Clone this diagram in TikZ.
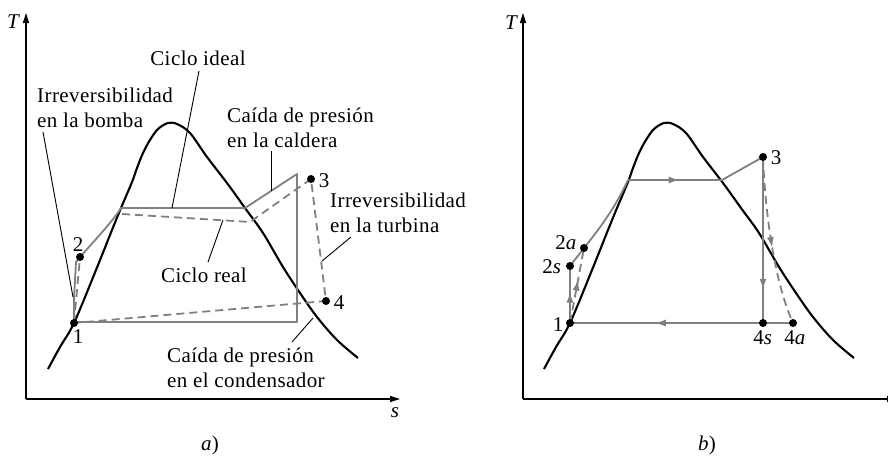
\documentclass[tikz,border=0pt]{standalone}
\usepackage{fontspec}
\setmainfont{Liberation Serif}[LetterSpace=2]
\usetikzlibrary{arrows.meta,decorations.markings}
\definecolor{cyc}{RGB}{128,128,128}
\tikzset{
  dome/.style={line width=2.1pt, black, line join=round},
  cycline/.style={line width=1.8pt, cyc, line join=round},
  cycdash/.style={cycline, dash pattern=on 8pt off 5pt},
  leader/.style={line width=0.9pt, black},
  axis/.style={line width=1.2pt, black, -{Triangle[length=10pt,width=6pt]}},
  dot/.style={circle, fill=black, inner sep=0pt, minimum size=8pt},
  lbl/.style={inner sep=0pt, font=\fontsize{21}{25}\selectfont},
  itl/.style={inner sep=0pt, font=\fontsize{21}{25}\selectfont\itshape},
  midarr/.style={postaction={decorate}, decoration={markings, mark=at position #1 with {\arrow{Latex[length=11pt,width=7pt]}}}},
}
\begin{document}
\begin{tikzpicture}[x=1pt,y=-1pt]
\useasboundingbox (0,0) rectangle (888,455);
\clip (0,0) rectangle (888,455);

% ---------------- panel a ----------------
\coordinate (Oa) at (26,399);
\coordinate (Ta) at (26,13);
\coordinate (Sa) at (400,399);
\draw[axis] (Oa) -- (Ta);
\draw[axis] (Oa) -- (Sa);
\node[itl] (Tla) at (13,22) {T};
\node[itl] (Sla) at (395,413) {s};
\node[lbl, anchor=base] (capa) at (210,450) {\textit{a})};

% domes
\foreach \dx in {0,496} {
  \draw[dome, xshift=\dx pt] plot[smooth, tension=0.55] coordinates {
    (48,369) (60,347) (74,323) (96,270) (112,230) (121,208) (132,182)
    (137,168) (143,153) (150,140) (158,129) (168,123) (177,124) (190,133)
    (207,157) (227,183) (245,208) (263,233) (283,267) (300,293) (317,317)
    (337,340) (358,358)};
}

% cycle a
\coordinate (p1) at (74,323);
\coordinate (p2) at (80,257);
\coordinate (p3) at (311,179);
\coordinate (p4) at (326,301);
\coordinate (ia) at (74,298);
\coordinate (ib) at (76,262);
\coordinate (ic) at (121,208);
\coordinate (id) at (245,208);
\coordinate (ie) at (297,174);
\coordinate (if) at (297,322);
\coordinate (ig) at (74,322);
\coordinate (rc) at (122,214);
\coordinate (rd) at (250,222);

\draw[cycline] (p1) -- (ia) -- (ib) .. controls (89,246) and (111,224) .. (ic)
  -- (id) -- (ie) -- (if) -- (ig);
\draw[cycdash] (p1) -- (p2);
\draw[cycdash] (rc) -- (rd) -- (p3) -- (p4) -- (p1);

\foreach \p in {p1,p2,p3,p4} \node[dot] at (\p) {};

\node[lbl] (n1a) at (78,337) {1};
\node[lbl] (n2a) at (78,245) {2};
\node[lbl] (n3a) at (324,181) {3};
\node[lbl] (n4a) at (339,303) {4};

% labels and leaders, panel a
\node[lbl, anchor=base] (tideal) at (198,65) {Ciclo ideal};
\coordinate (tidealtip) at (172,208);
\draw[leader] (199,71) -- (tidealtip);

\node[lbl, anchor=base west, align=left] (tbomba) at (37,127) {Irreversibilidad\\en la bomba};
\coordinate (tbombatip) at (73,297);
\draw[leader] (43,132) -- (tbombatip);

\node[lbl, anchor=base west, align=left] (tcald) at (227,147) {Caída de presión\\en la caldera};
\coordinate (tcaldtip) at (271,191);
\draw[leader] (271,151) -- (tcaldtip);

\node[lbl, anchor=base west, align=left] (tturb) at (330,232) {Irreversibilidad\\en la turbina};
\coordinate (tturbtip) at (322,261);
\draw[leader] (351,237) -- (tturbtip);

\node[lbl, anchor=base] (treal) at (204,282) {Ciclo real};
\coordinate (trealtip) at (223,220);
\draw[leader] (208,262) -- (trealtip);

\node[lbl, anchor=base west, align=left] (tcond) at (167,387) {Caída de presión\\en el condensador};
\coordinate (tcondtip) at (313,318);
\draw[leader] (292,342) -- (tcondtip);

% ---------------- panel b ----------------
\coordinate (Ob) at (523,399);
\coordinate (Tb) at (523,13);
\coordinate (Sb) at (897,399);
\draw[axis] (Ob) -- (Tb);
\draw[axis] (Ob) -- (Sb);
\node[itl] (Tlb) at (511,23) {T};
\node[lbl, anchor=base] (capb) at (707,450) {\textit{b})};

\coordinate (q1) at (570,323);
\coordinate (q2s) at (570,266);
\coordinate (q2a) at (584,248);
\coordinate (q3) at (763,157);
\coordinate (q4s) at (763,323);
\coordinate (q4a) at (793,323);
\coordinate (qL) at (628,180);
\coordinate (qR) at (722,180);

\draw[cycline, midarr=0.55] (q1) -- (q2s);
\draw[cycline] (q2s) -- (q2a) .. controls (600,228) and (615,208) .. (qL);
\draw[cycline, midarr=0.55] (qL) -- (qR);
\draw[cycline] (qR) -- (q3);
\draw[cycline, midarr=0.8] (q3) -- (q4s);
\draw[cycline, midarr=0.62] (q4a) -- (q1);
\draw[cycdash, midarr=0.54] (q3) .. controls (766,230) and (778,290) .. (q4a);
\draw[cycdash, midarr=0.58] (q1) -- (q2a);

\foreach \p in {q1,q2s,q2a,q3,q4s,q4a} \node[dot] at (\p) {};

\node[lbl] (m1) at (558,325) {1};
\node[lbl] (m2s) at (552,267) {2\textit{s}};
\node[lbl] (m2a) at (566,243) {2\textit{a}};
\node[lbl] (m3) at (776,158) {3};
\node[lbl] (m4s) at (763,338) {4\textit{s}};
\node[lbl] (m4a) at (795,338) {4\textit{a}};
\end{tikzpicture}
\end{document}
